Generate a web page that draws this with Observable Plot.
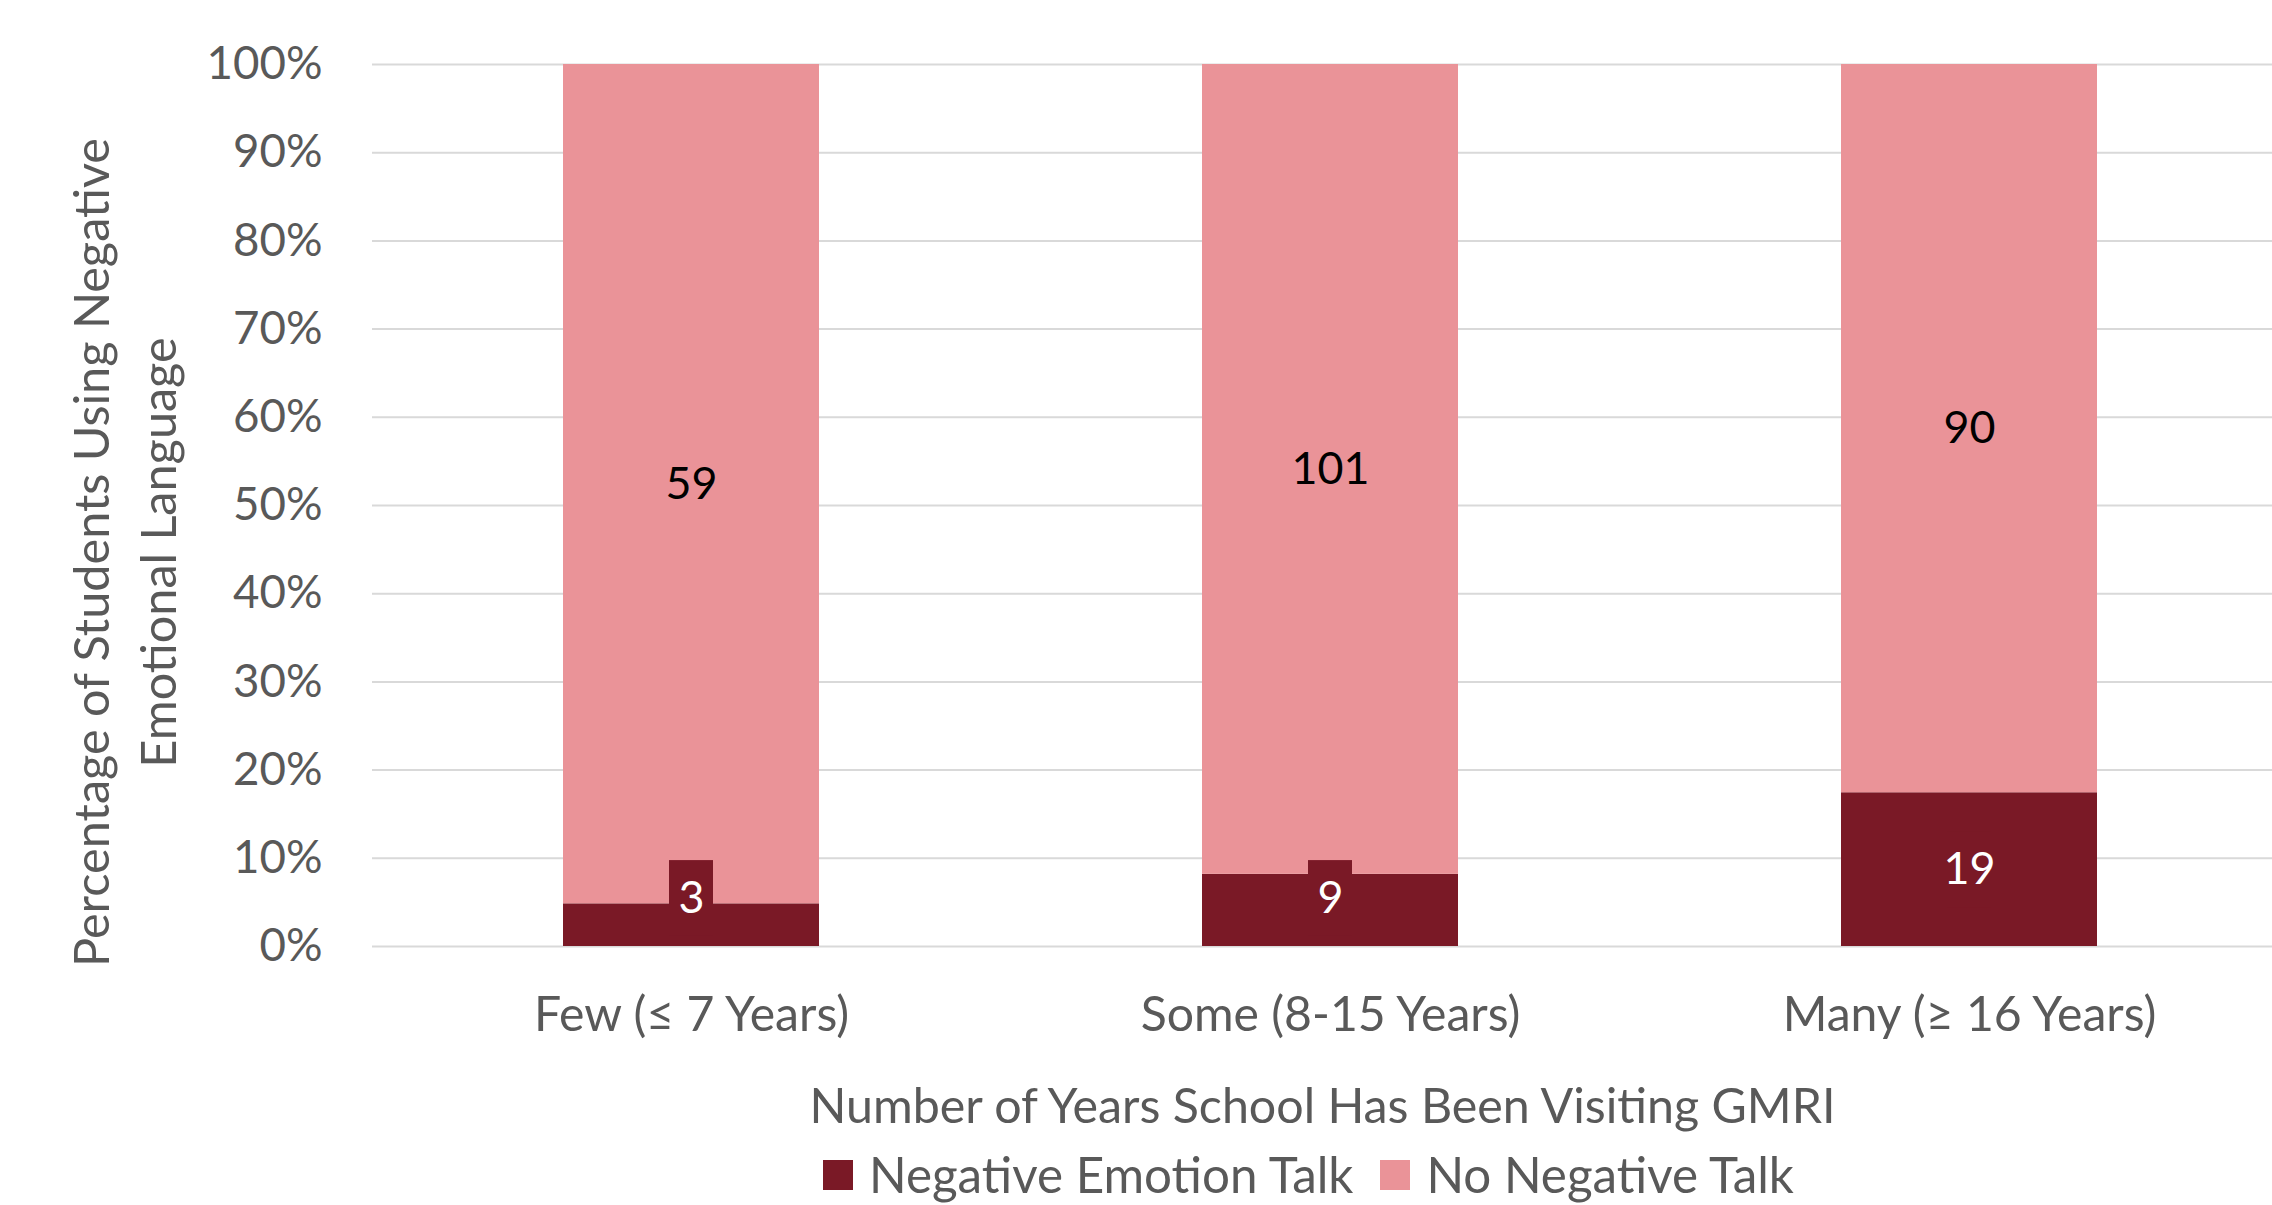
<!DOCTYPE html>
<html><head><meta charset="utf-8">
<script src="https://cdn.jsdelivr.net/npm/d3@7"></script>
<script src="https://cdn.jsdelivr.net/npm/@observablehq/plot@0.6"></script>
<style>
body{margin:0;background:#fff;font-family:Lato, sans-serif;}
#wrap{position:relative;width:2272px;height:1205px;overflow:hidden;background:#fff;}
#wrap svg{display:block;}
#legend{position:absolute;left:823px;top:1160px;height:30px;line-height:1;display:flex;align-items:center;color:#595959;white-space:nowrap;font-family:Lato, sans-serif;}
.sw{width:30px;height:30px;display:inline-block;margin-right:16px;flex:none;}
</style></head><body><div id="wrap"></div>
<script>
// ---- data ----
const categories = ["Few (≤ 7 Years)", "Some (8-15 Years)", "Many (≥ 16 Years)"];
const seriesNames = ["Negative Emotion Talk", "No Negative Talk"];
const negativeCounts = [3, 9, 19];
const noNegativeCounts = [59, 101, 90];
const yTicks = [0, 0.1, 0.2, 0.3, 0.4, 0.5, 0.6, 0.7, 0.8, 0.9, 1.0];
const xTitle = "Number of Years School Has Been Visiting GMRI";
const yTitle = "Percentage of Students Using Negative\nEmotional Language";
const colors = ["#7A1926", "#EA9398"];

// ---- font fitting ----
const ctx = document.createElement("canvas").getContext("2d");
function fit(text, target) { ctx.font = "100px Lato"; return 100 * target / ctx.measureText(text).width; }
const fsY = fit("100%", 116);
const fsX = fit(categories[0], 318);
const fsXT = fit(xTitle, 1032);
const fsYT = fit("Percentage of Students Using Negative", 830);
const fsLeg = fit(seriesNames[0], 486);
const fsLab = fit("59", 52);

// ---- rows ----
const rows = categories.flatMap((c, i) => {
  const t = negativeCounts[i] + noNegativeCounts[i];
  const p = negativeCounts[i] / t;
  return [
    {cat: c, series: seriesNames[0], count: negativeCounts[i], y1: 0, y2: p, ly: Math.max(p / 2, 0.0544)},
    {cat: c, series: seriesNames[1], count: noNegativeCounts[i], y1: p, y2: 1, ly: (p + 1) / 2}
  ];
});
const negRows = rows.filter(d => d.series === seriesNames[0]);
const posRows = rows.filter(d => d.series === seriesNames[1]);

const H = 1140;
const chart = Plot.plot({
  width: 2272, height: H,
  marginTop: 64, marginBottom: H - 946, marginLeft: 372, marginRight: 0,
  x: {domain: categories, range: [371, 2288], paddingInner: 0.6, paddingOuter: 0.3, label: null},
  y: {domain: [0, 1], label: null},
  color: {domain: seriesNames, range: colors},
  style: {fontFamily: "Lato", color: "#595959", background: "white"},
  marks: [
    Plot.gridY(yTicks, {stroke: "#D9D9D9", strokeOpacity: 1, strokeWidth: 2}),
    Plot.barY(rows, {x: "cat", y1: "y1", y2: "y2", fill: "series"}),
    Plot.barY(negRows, {x: "cat", y1: d => d.ly - 0.043, y2: d => d.ly + 0.043, fill: colors[0], insetLeft: 106, insetRight: 106}),
    Plot.text(negRows, {x: "cat", y: "ly", text: d => String(d.count), fill: "white", fontSize: fsLab}),
    Plot.text(posRows, {x: "cat", y: "ly", text: d => String(d.count), fill: "black", fontSize: fsLab}),
    Plot.axisY(yTicks, {tickSize: 0, tickPadding: 50, tickFormat: d3.format(".0%"), fontSize: fsY, color: "#595959", label: null}),
    Plot.axisX({tickSize: 0, tickPadding: 50, fontSize: fsX, color: "#595959", label: null}),
    Plot.text([xTitle], {frameAnchor: "bottom", dy: 176, fontSize: fsXT, fill: "#595959"}),
    Plot.text([yTitle], {frameAnchor: "left", textAnchor: "middle", dx: -251, dy: 47, rotate: -90, fontSize: fsYT, lineHeight: 67 / fsYT, fill: "#595959"})
  ]
});
const wrap = document.getElementById("wrap");
wrap.appendChild(chart);

// ---- legend ----
const leg = document.createElement("div");
leg.id = "legend";
leg.style.fontSize = fsLeg + "px";
seriesNames.forEach((s, i) => {
  const sw = document.createElement("span");
  sw.className = "sw";
  sw.style.background = colors[i];
  const tx = document.createElement("span");
  tx.textContent = s;
  if (i === 0) tx.style.marginRight = "27px";
  leg.appendChild(sw);
  leg.appendChild(tx);
});
wrap.appendChild(leg);
</script>
</body></html>
